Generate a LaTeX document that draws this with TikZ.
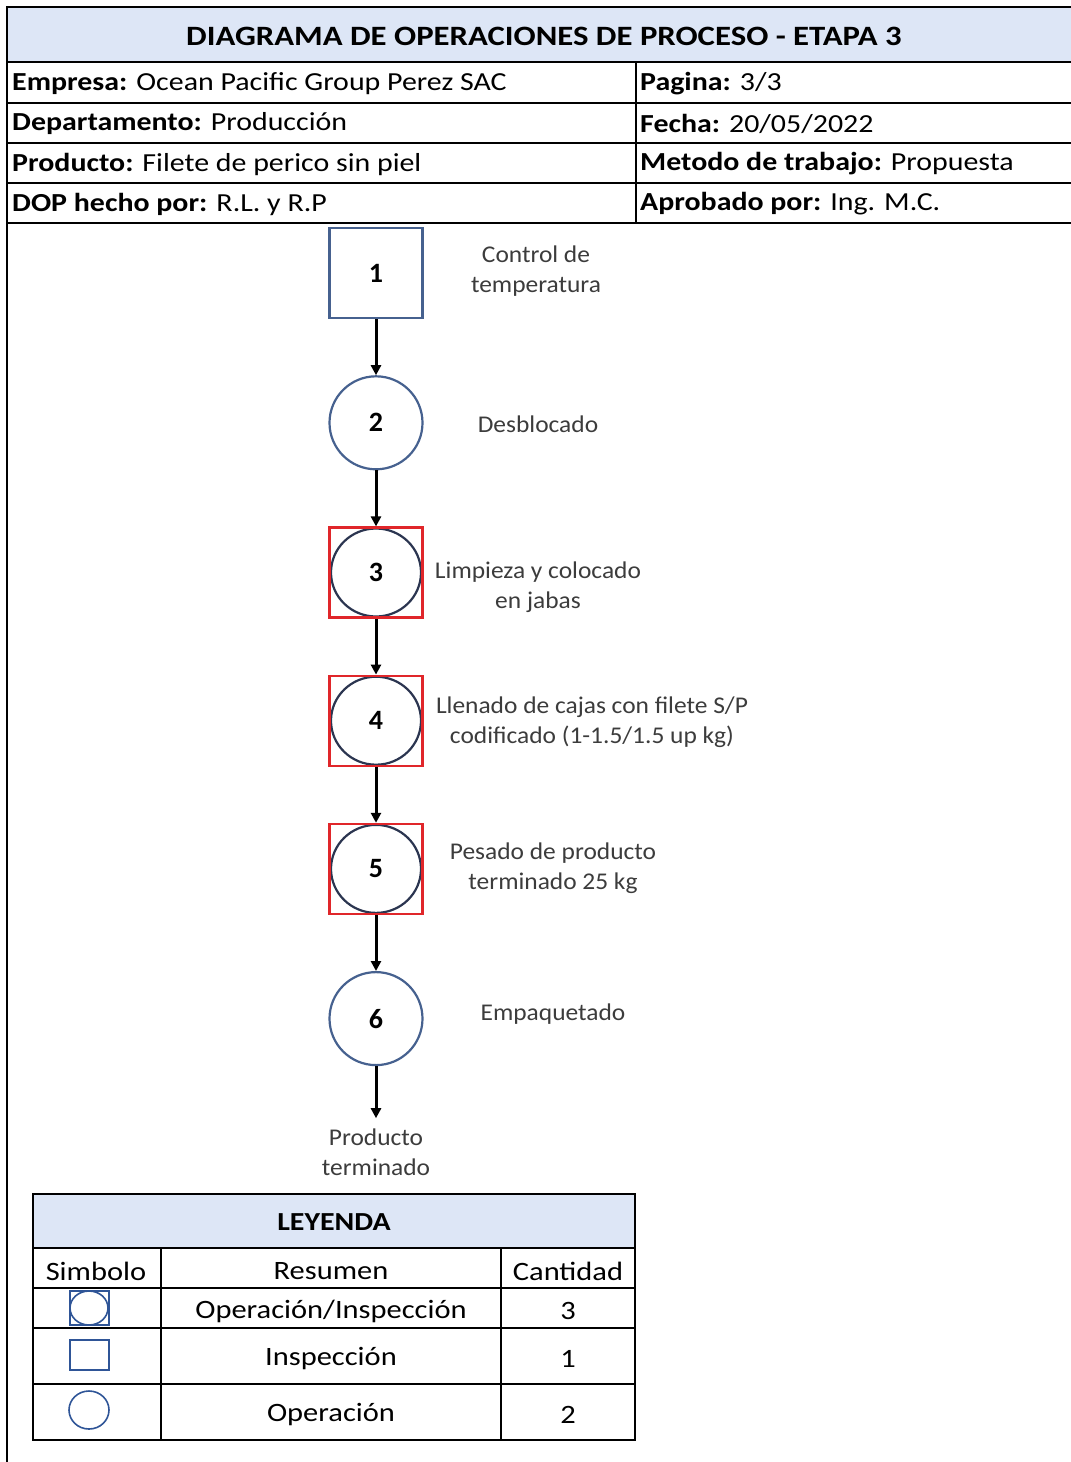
\documentclass[tikz,border=0pt]{standalone}
\usepackage{fontspec}
\setmainfont{Carlito}
\newfontfamily\widefont{Carlito}[FakeStretch=1.15]
\newfontfamily\titlefont{Carlito}[FakeStretch=1.17]
\newfontfamily\stepfont{Carlito}[FakeStretch=1.06]
\usetikzlibrary{positioning, arrows.meta}
\definecolor{bandblue}{HTML}{DDE6F6}
\definecolor{opblue}{HTML}{46618F}
\definecolor{symblue}{HTML}{2F5597}
\definecolor{insred}{HTML}{E0262A}
\definecolor{innernavy}{HTML}{2B3550}
\definecolor{labelgray}{HTML}{3C3C3C}

\begin{document}
\begin{tikzpicture}[
  x=1pt, y=-1pt,
  node distance=56pt,
  grid/.style={line width=2pt, draw=black},
  cell/.style={anchor=west, inner sep=0pt, font=\widefont\fontsize{26}{30}\selectfont},
  legtext/.style={inner sep=0pt, font=\widefont\fontsize{26.5}{30}\selectfont},
  num/.style={font=\fontsize{28}{30}\selectfont\bfseries},
  insp/.style={num, rectangle, draw=opblue, line width=2.4pt,
    minimum width=93pt, minimum height=90pt},
  oper/.style={num, circle, draw=opblue, line width=2.2pt, minimum size=93pt},
  opinsp/.style={num, rectangle, draw=insred, line width=2.2pt,
    minimum width=93pt, minimum height=90pt,
    path picture={\draw[innernavy, line width=2.2pt]
      (path picture bounding box.center) ellipse (45pt and 44pt);}},
  steplabel/.style={align=center, text=labelgray, inner sep=0pt,
    font=\stepfont\fontsize{24}{30}\selectfont},
  arrow/.style={-{Triangle[length=10pt, width=10pt]}, line width=3pt},
  symbol/.style={symblue, line width=1.6pt},
]
\useasboundingbox (0,0) rectangle (1071,1462);

% cabecera
\fill[bandblue] (7,7) rectangle (1071,62);
\draw[grid] (1071,7) -- (7,7) -- (7,1462);
\foreach \y in {62,103,143,183,223}
  \draw[grid] (7,\y) -- (1071,\y);
\draw[grid] (636,62) -- (636,223);

\node[font=\titlefont\fontsize{28}{30}\selectfont\bfseries] (title) at (544,36)
  {DIAGRAMA DE OPERACIONES DE PROCESO - ETAPA 3};
\node[cell] (emp) at (12,84) {\textbf{Empresa:} Ocean Pacific Group Perez SAC};
\node[cell] (dep) at (12,124) {\textbf{Departamento:} Producción};
\node[cell] (prod) at (12,164) {\textbf{Producto:} Filete de perico sin piel};
\node[cell] (dop) at (12,204) {\textbf{DOP hecho por:} R.L. y R.P};
\node[cell] (pag) at (640,84) {\textbf{Pagina:} 3/3};
\node[cell] (fec) at (640,124) {\textbf{Fecha:} 20/05/2022};
\node[cell] (met) at (640,164) {\textbf{Metodo de trabajo:} Propuesta};
\node[cell] (apr) at (640,204) {\textbf{Aprobado por:} Ing. M.C.};

% diagrama
\node[insp] (n1) at (376,273) {1};
\node[oper, below=of n1] (n2) {2};
\node[opinsp, below=of n2] (n3) {3};
\node[opinsp, below=of n3] (n4) {4};
\node[opinsp, below=of n4] (n5) {5};
\node[oper, below=of n5] (n6) {6};
\coordinate[below=52pt of n6] (fin);
\node[steplabel, below=10pt of fin] (pt) {Producto\\terminado};

\node[steplabel] (l1) at (536,271) {Control de\\temperatura};
\node[steplabel] (l2) at (538,424) {Desblocado};
\node[steplabel] (l3) at (538,587) {Limpieza y colocado\\en jabas};
\node[steplabel] (l4) at (592,722) {Llenado de cajas con filete S/P\\codificado (1-1.5/1.5 up kg)};
\node[steplabel] (l5) at (553,868) {Pesado de producto\\terminado 25 kg};
\node[steplabel] (l6) at (553,1014) {Empaquetado};

\draw[arrow] (n1) -- (n2);
\draw[arrow] (n2) -- (n3);
\draw[arrow] (n3) -- (n4);
\draw[arrow] (n4) -- (n5);
\draw[arrow] (n5) -- (n6);
\draw[arrow] (n6) -- (fin);

% leyenda
\fill[bandblue] (33,1194) rectangle (635,1248);
\draw[grid] (33,1194) rectangle (635,1440);
\foreach \y in {1248,1288,1328,1384}
  \draw[grid] (33,\y) -- (635,\y);
\draw[grid] (161,1248) -- (161,1440);
\draw[grid] (501,1248) -- (501,1440);

\node[legtext, font=\widefont\fontsize{26}{30}\selectfont\bfseries] (ley) at (334,1222) {LEYENDA};
\node[legtext] (hsim) at (96,1271) {Simbolo};
\node[legtext] (hres) at (331,1271) {Resumen};
\node[legtext] (hcan) at (568,1271) {Cantidad};
\node[legtext] (r1) at (331,1311) {Operación/Inspección};
\node[legtext] (r2) at (331,1359) {Inspección};
\node[legtext] (r3) at (331,1415) {Operación};
\node[legtext] (c1) at (568,1311) {3};
\node[legtext] (c2) at (568,1359) {1};
\node[legtext] (c3) at (568,1415) {2};

\draw[symbol] (70,1291) rectangle (109,1325);
\draw[symbol] (89,1308) ellipse (19pt and 17pt);
\draw[symbol] (70,1340) rectangle (109,1370);
\draw[symbol] (89,1410) ellipse (20pt and 19pt);
\end{tikzpicture}
\end{document}
